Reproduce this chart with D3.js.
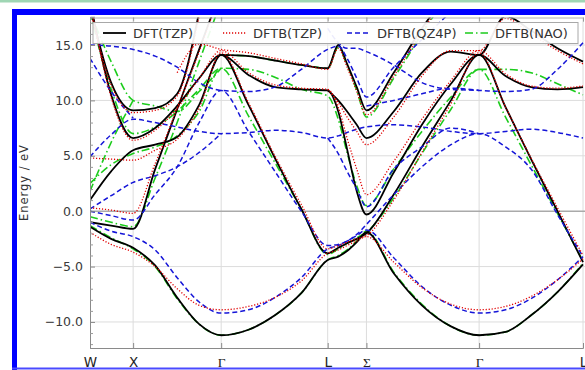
<!DOCTYPE html>
<html>
<head>
<meta charset="utf-8">
<script src="https://cdn.jsdelivr.net/npm/d3@7"></script>
<style>
  body { margin: 0; background: #fff; }
  svg { display: block; font-family: "DejaVu Sans", sans-serif; }
</style>
</head>
<body>
<svg id="chart" width="585" height="370"></svg>
<script>

// k-path sample points (W X Γ L Σ Γ L) and energies in eV
const kPoints = [0, 0.24, 0.49, 0.74, 0.99, 1.24, 1.49, 1.80, 2.10, 2.40, 2.70, 2.82, 2.92, 3.03, 3.14, 3.45, 3.77, 4.10, 4.42, 4.72, 5.01, 5.31, 5.60];
const kTicks = [0, 0.49, 1.49, 2.70, 3.14, 4.42, 5.60];
const kLabels = ["W", "X", "Γ", "L", "Σ", "Γ", "L"];
const eTicks = [-10, -5, 0, 5, 10, 15];
const seriesNames = ["DFT(TZP)", "DFTB(TZP)", "DFTB(QZ4P)", "DFTB(NAO)"];

const _ = null;

const dftTZP = [
  [-1.4, -2.5, -3.3, -4.9, -7.8, -10.2, -11.2, -10.7, -9.4, -7.4, -4.4, -4.1, -3.6, -2.8, -1.9, -5.6, -8.5, -10.4, -11.2, -10.9, -9.4, -7.3, -4.8],
  [-1.0, -1.3, -1.6, 3.8, 9.2, 14.6, 20, _, _, _, _, _, _, _, _, _, _, _, _, _, _, _, _],
  [1.0, 3.6, 5.5, 6.0, 6.7, 9.6, 14.1, 9.6, 4.8, 0.2, -3.8, -3.3, -2.9, -2.5, -2.0, 1.5, 5.8, 10.0, 14.1, 9.4, 4.7, 0.0, -4.6],
  [19, 10.5, 6.6, 7.5, 9.5, 12.0, 14.1, 12.3, 11.2, 11.0, 10.9, 9.0, 5.6, 1.8, -0.3, 3.5, 7.8, 11.5, 14.1, 12.2, 11.2, 11.0, 11.2],
  [18.5, 11.6, 9.1, 9.3, 10.6, 18, _, _, _, _, _, _, _, _, _, _, _, _, _, _, _, _, _],
  [_, _, _, _, _, _, 14.1, 14.0, 13.6, 13.2, 12.9, 15.0, 13.3, 11.2, 9.1, 12.5, 16.5, 20, _, _, _, _, _],
  [_, _, _, _, _, _, _, _, _, _, 10.9, 10.0, 9.0, 7.8, 6.6, 9.0, 12.5, 14.4, 14.1, 17.6, 16.3, 14.7, 13.5]
];

const dftbTZP = [
  [-1.9, -3.0, -3.7, -5.0, -7.0, -8.5, -8.9, -8.6, -7.8, -6.3, -3.8, -3.5, -3.1, -2.7, -2.3, -4.6, -6.9, -8.4, -8.9, -8.6, -7.7, -6.2, -4.3],
  [0.3, 0.1, -0.2, 4.3, 9.3, 14.4, 20, _, _, _, _, _, _, _, _, _, _, _, _, _, _, _, _],
  [4.8, 4.7, 4.6, 5.5, 6.5, 9.3, 14.3, 9.8, 5.0, 0.6, -3.4, -3.1, -2.8, -2.5, -2.2, 1.0, 5.3, 9.7, 14.3, 9.4, 4.8, 0.3, -4.0],
  [19, 10.3, 6.4, 7.3, 9.3, 12.0, 14.5, 12.5, 11.4, 11.1, 11.0, 9.4, 6.6, 3.8, 1.5, 4.5, 8.3, 11.8, 14.5, 12.4, 11.3, 11.1, 11.3],
  [18.3, 11.4, 8.9, 9.1, 10.4, 17.6, _, _, _, _, _, _, _, _, _, _, _, _, _, _, _, _, _],
  [_, _, _, _, 12.5, 15.1, 14.6, 14.3, 13.8, 13.3, 12.8, 14.7, 13.0, 10.8, 8.7, 12.2, 16.2, 20, _, _, _, _, _],
  [_, _, _, _, _, _, _, _, _, _, 11.0, 9.8, 8.5, 7.2, 6.0, 8.5, 12.2, 14.5, 14.5, 17.4, 16.0, 14.5, 13.3]
];

const dftbQZ4P = [
  [-1.0, -1.8, -2.3, -3.5, -6.0, -8.2, -9.2, -8.9, -7.8, -6.0, -3.4, -3.1, -2.7, -2.2, -1.7, -4.2, -6.8, -8.5, -9.2, -8.9, -7.9, -6.2, -4.1],
  [0.0, -0.4, -0.8, 1.5, 4.0, 8.0, 10.9, 7.2, 3.6, 0.0, -3.1, -3.0, -2.7, -2.1, -1.2, 1.5, 4.0, 6.0, 7.0, 5.8, 3.8, -0.3, -4.1],
  [4.9, 6.9, 8.3, 8.0, 7.6, 7.2, 7.0, 7.1, 7.3, 7.1, 6.6, 6.8, 7.1, 7.4, 7.6, 7.8, 7.6, 7.2, 7.0, 7.2, 7.4, 7.1, 6.6],
  [0.2, 1.4, 2.6, 3.2, 4.0, 5.3, 7.0, _, _, _, _, _, _, _, _, _, _, _, _, _, _, _, _],
  [_, _, _, _, _, _, _, _, _, _, 6.6, 5.2, 3.6, 2.0, 0.4, 3.8, 5.8, 7.5, 7.0, _, _, _, _],
  [15.0, 14.9, 14.6, 14.0, 13.0, 11.6, 10.9, 10.8, 11.2, 12.8, 14.6, 14.9, 13.8, 12.0, 10.3, 13.0, 15.5, 18, _, _, _, _, _],
  [_, _, _, _, _, _, _, _, _, _, 16.5, 15.2, 14.7, 14.7, 14.4, 13.2, 11.6, 11.0, 10.9, 10.8, 11.0, 12.8, 15.2],
  [_, _, _, _, _, _, _, _, _, _, _, _, _, _, 9.5, 10.0, 10.6, 11.1, 10.9, _, _, _, _],
  [13.8, 10.8, 8.4, _, _, _, _, _, _, _, _, _, _, _, _, _, _, _, _, _, _, _, _]
];

const dftbNAO = [
  [-1.3, -2.4, -3.4, -5.0, -7.9, -10.2, -11.2, -10.7, -9.4, -7.4, -4.4, -4.0, -3.5, -2.7, -1.8, -5.5, -8.4, -10.4, -11.2, -10.9, -9.4, -7.3, -4.7],
  [-0.5, -1.0, -1.4, 3.0, 8.0, 13.5, 19, _, _, _, _, _, _, _, _, _, _, _, _, _, _, _, _],
  [2.5, 4.2, 5.2, 5.8, 6.8, 9.0, 12.9, 8.6, 4.4, 0.2, -3.9, -3.4, -2.9, -2.4, -1.9, 1.2, 5.2, 9.2, 12.8, 8.5, 4.2, -0.2, -4.5],
  [18, 11.0, 7.0, 7.6, 9.0, 11.0, 12.9, 12.8, 12.1, 11.0, 10.4, 8.3, 5.3, 2.3, 0.5, 3.8, 7.2, 10.3, 12.8, 12.8, 12.5, 11.5, 10.5],
  [18, 13.5, 10.0, 9.5, 9.0, 10.8, 12.9, _, _, _, _, _, _, _, _, _, _, _, _, _, _, _, _],
  [_, _, _, _, _, _, 14.1, 14.0, 13.6, 13.2, 12.9, 14.8, 13.2, 10.9, 8.5, 12.0, 16.0, 20, _, _, _, _, _],
  [1.8, 6.2, 10.0, _, _, _, _, _, _, _, _, _, _, _, _, _, _, _, _, _, _, _, _]
];

var svg = d3.select("#chart");

// page frame
svg.append("rect").attr("x", 0).attr("y", 0).attr("width", 585).attr("height", 2.5).attr("fill", "#9fd6b4");
svg.append("rect").attr("x", 12).attr("y", 9).attr("width", 573).attr("height", 6).attr("fill", "#0000ff");
svg.append("rect").attr("x", 12).attr("y", 9).attr("width", 5).attr("height", 361).attr("fill", "#0000ff");
svg.append("rect").attr("x", 12).attr("y", 367.5).attr("width", 573).attr("height", 2).attr("fill", "#4a4aff");

var x = d3.scaleLinear().domain([0, 5.60]).range([90, 583]);
var y = d3.scaleLinear().domain([-12.35, 17.55]).range([348, 16.75]);

var plotTop = 17.5, plotBottom = 348, plotLeft = 90, plotRight = 585;

svg.append("clipPath").attr("id", "plotClip")
  .append("rect")
  .attr("x", plotLeft).attr("y", plotTop)
  .attr("width", plotRight - plotLeft).attr("height", plotBottom - plotTop);

// grid
var grid = svg.append("g");
grid.selectAll(".vgrid")
  .data(kTicks.slice(1))
  .enter().append("line")
  .attr("x1", d => x(d)).attr("x2", d => x(d))
  .attr("y1", plotTop).attr("y2", plotBottom)
  .attr("stroke", "#dcdcdc").attr("stroke-width", 1);

grid.selectAll(".hgrid")
  .data(eTicks.filter(d => d !== 0))
  .enter().append("line")
  .attr("x1", plotLeft).attr("x2", plotRight)
  .attr("y1", d => y(d)).attr("y2", d => y(d))
  .attr("stroke", "#dcdcdc").attr("stroke-width", 1);

grid.append("line")
  .attr("x1", plotLeft).attr("x2", plotRight)
  .attr("y1", y(0)).attr("y2", y(0))
  .attr("stroke", "#aaaaaa").attr("stroke-width", 1.6);

// bands
var line = d3.line()
  .defined(d => d[1] !== null)
  .x(d => x(d[0]))
  .y(d => y(d[1]))
  .curve(d3.curveMonotoneX);

const styles = {
  "DFT(TZP)":   { color: "#000000", dash: null,        width: 1.8 },
  "DFTB(TZP)":  { color: "#e00000", dash: "1.2,1.8",   width: 1.3 },
  "DFTB(QZ4P)": { color: "#1515d8", dash: "5,3",       width: 1.5 },
  "DFTB(NAO)":  { color: "#1ccc1c", dash: "8,3,1.5,3", width: 1.6 }
};

const bandsBySeries = {
  "DFT(TZP)": dftTZP,
  "DFTB(TZP)": dftbTZP,
  "DFTB(QZ4P)": dftbQZ4P,
  "DFTB(NAO)": dftbNAO
};

var bandsG = svg.append("g").attr("clip-path", "url(#plotClip)");

// draw order: NAO underneath, red dots on top
["DFTB(NAO)", "DFT(TZP)", "DFTB(QZ4P)", "DFTB(TZP)"].forEach(function (name) {
  var st = styles[name];
  bandsG.append("g")
    .selectAll("path")
    .data(bandsBySeries[name].map(b => b.map((e, i) => [kPoints[i], e])))
    .enter().append("path")
    .attr("d", line)
    .attr("fill", "none")
    .attr("stroke", st.color)
    .attr("stroke-width", st.width)
    .attr("stroke-dasharray", st.dash)
    .attr("stroke-linejoin", "round");
});

// axes
var yAxis = d3.axisLeft(y).tickValues(eTicks).tickSize(-5).tickPadding(7).tickFormat(d3.format(".1f"));
var yMinor = d3.axisLeft(y).tickValues(d3.range(-12, 18).filter(d => d % 5 !== 0)).tickSize(-3).tickFormat("");
var xAxis = d3.axisBottom(x).tickValues(kTicks).tickSize(-5).tickPadding(9).tickFormat((d, i) => kLabels[i]);
var xTop = d3.axisTop(x).tickValues(kTicks).tickSize(-4).tickFormat("");

var gy = svg.append("g").attr("transform", "translate(" + plotLeft + ",0)").call(yAxis);
gy.select(".domain").attr("stroke", "#8a8a8a");
gy.selectAll(".tick line").attr("stroke", "#8a8a8a");
gy.selectAll(".tick text").attr("font-size", 12.5).attr("fill", "#3a3a3a").attr("font-family", "DejaVu Sans");

var gym = svg.append("g").attr("transform", "translate(" + plotLeft + ",0)").call(yMinor);
gym.select(".domain").remove();
gym.selectAll(".tick line").attr("stroke", "#9a9a9a");

var gx = svg.append("g").attr("transform", "translate(0," + plotBottom + ")").call(xAxis);
gx.select(".domain").attr("stroke", "#8a8a8a");
gx.selectAll(".tick line").attr("stroke", "#8a8a8a");
gx.selectAll(".tick text")
  .attr("font-size", 13.5)
  .attr("fill", "#222")
  .attr("font-family", (d, i) => /[ΓΣ]/.test(kLabels[i]) ? "Liberation Serif" : "DejaVu Sans");

var gt = svg.append("g").attr("transform", "translate(0," + plotTop + ")").call(xTop);
gt.select(".domain").attr("stroke", "#b0b0b0");
gt.selectAll(".tick line").attr("stroke", "#9a9a9a");

svg.append("text")
  .attr("transform", "translate(27.5,183) rotate(-90)")
  .attr("text-anchor", "middle")
  .attr("font-size", 11.5)
  .attr("fill", "#333")
  .attr("textLength", 76)
  .attr("lengthAdjust", "spacing")
  .text("Energy / eV");

// legend
var legendX = [103, 223, 347, 465];
var legend = svg.append("g");
legend.append("rect")
  .attr("x", 93).attr("y", 22.5)
  .attr("width", 485).attr("height", 21)
  .attr("fill", "#fff").attr("fill-opacity", 0.92)
  .attr("stroke", "#a8a8a8").attr("stroke-width", 1);

var items = legend.selectAll(".item")
  .data(seriesNames)
  .enter().append("g")
  .attr("transform", (d, i) => "translate(" + legendX[i] + ",33)");

items.append("line")
  .attr("x1", 0).attr("x2", 23)
  .attr("stroke", d => styles[d].color)
  .attr("stroke-width", d => styles[d].width)
  .attr("stroke-dasharray", d => styles[d].dash);

items.append("text")
  .attr("x", 30).attr("y", 4.6)
  .attr("font-size", 13)
  .attr("fill", "#333")
  .text(d => d);

</script>
</body>
</html>
